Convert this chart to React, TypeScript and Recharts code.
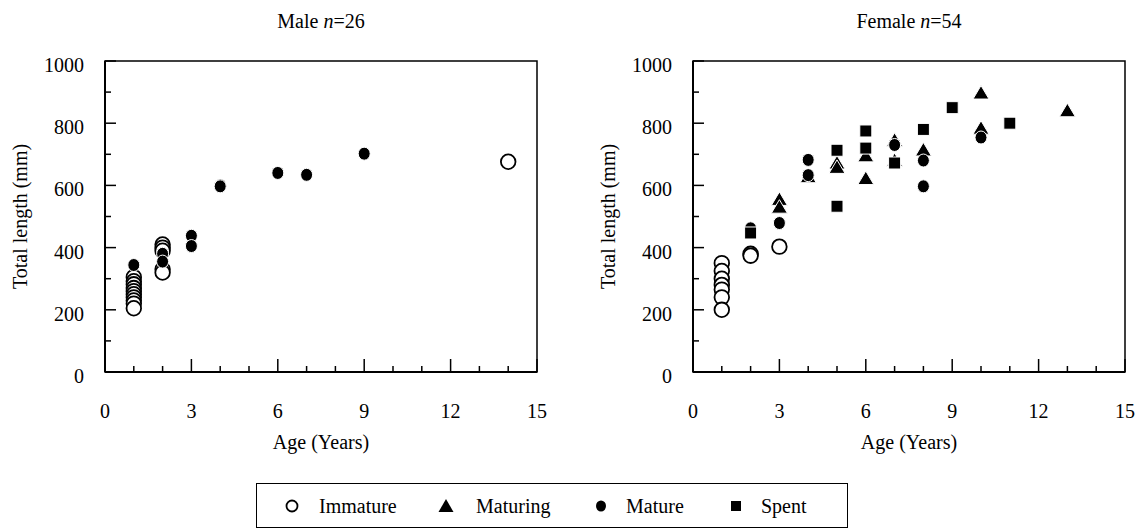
import React from "react";
import { ScatterChart, Scatter, XAxis, YAxis, ReferenceArea, Label } from "recharts";

// [age, total length]
const maleImmature: [number, number][] = [
  [1, 305], [1, 292], [1, 282], [1, 270], [1, 260], [1, 250], [1, 240], [1, 230], [1, 220], [1, 205],
  [2, 410], [2, 400], [2, 390], [2, 330], [2, 320],
  [14, 676],
];
const maleMaturing: [number, number][] = [];
const maleMature: [number, number][] = [
  [1, 344], [2, 380], [2, 355], [3, 438], [3, 405], [4, 600], [4, 597], [6, 640], [7, 634], [9, 702],
];
const maleSpent: [number, number][] = [];

const femaleImmature: [number, number][] = [
  [1, 350], [1, 325], [1, 300], [1, 280], [1, 265], [1, 240], [1, 200],
  [2, 380], [2, 374], [3, 403],
];
const femaleMaturing: [number, number][] = [
  [3, 555], [3, 530], [4, 628], [5, 672], [5, 658], [6, 695], [6, 622], [7, 745], [7, 680],
  [8, 714], [10, 897], [10, 784], [13, 840],
];
const femaleMature: [number, number][] = [
  [2, 462], [3, 479], [4, 682], [4, 633], [7, 730], [8, 680], [8, 597], [10, 754],
];
const femaleSpent: [number, number][] = [
  [2, 447], [5, 713], [5, 533], [6, 775], [6, 720], [7, 672], [8, 780], [9, 850], [11, 800],
];

const xTicks = [0, 1, 2, 3, 4, 5, 6, 7, 8, 9, 10, 11, 12, 13, 14, 15];
const yTicks = [0, 100, 200, 300, 400, 500, 600, 700, 800, 900, 1000];

const FONT = '"Liberation Serif", "Times New Roman", serif';

const toRows = (pts: [number, number][]) => pts.map(([age, len]) => ({ age, len }));

const OpenCircle = (p: any) => (
  <circle cx={p.cx} cy={p.cy} r={7.3} fill="#fff" stroke="#000" strokeWidth={1.8} />
);
const Triangle = (p: any) => (
  <path
    d={`M${p.cx},${p.cy - 7.5} L${p.cx + 8},${p.cy + 6} L${p.cx - 8},${p.cy + 6} Z`}
    fill="#000"
    stroke="#fff"
    strokeWidth={1}
  />
);
const Dot = (p: any) => (
  <ellipse cx={p.cx} cy={p.cy} rx={6} ry={6.5} fill="#000" stroke="#fff" strokeWidth={1} />
);
const Square = (p: any) => (
  <rect x={p.cx - 6} y={p.cy - 6} width={12} height={12} fill="#000" stroke="#fff" strokeWidth={1} />
);

const XTick = (p: any) => {
  const v = p.payload.value;
  const major = v % 3 === 0;
  return (
    <g>
      <line x1={p.x} x2={p.x} y1={p.y} y2={p.y - (major ? 13 : 6)} stroke="#000" strokeWidth={1.5} />
      {major && (
        <text x={p.x} y={p.y + 46} textAnchor="middle" fontSize={20} fontFamily={FONT} fill="#000">
          {v}
        </text>
      )}
    </g>
  );
};

const YTick = (p: any) => {
  const v = p.payload.value;
  const major = v % 200 === 0;
  return (
    <g>
      <line x1={p.x} x2={p.x + (major ? 11 : 6)} y1={p.y} y2={p.y} stroke="#000" strokeWidth={1.5} />
      {major && (
        <text x={p.x - 21} y={p.y + 11} textAnchor="end" fontSize={20} fontFamily={FONT} fill="#000">
          {v}
        </text>
      )}
    </g>
  );
};

const XTitle = (p: any) => {
  const vb = p.viewBox;
  return (
    <text x={vb.x + vb.width / 2} y={vb.y + 77} textAnchor="middle" fontSize={20} fontFamily={FONT} fill="#000">
      Age (Years)
    </text>
  );
};

const YTitle = (p: any) => {
  const vb = p.viewBox;
  const cx = 27;
  const cy = vb.y + vb.height / 2;
  return (
    <text
      x={cx}
      y={cy}
      transform={`rotate(-90 ${cx} ${cy})`}
      textAnchor="middle"
      fontSize={20}
      fontFamily={FONT}
      fill="#000"
    >
      Total length (mm)
    </text>
  );
};

function Panel({
  immature,
  maturing,
  mature,
  spent,
}: {
  immature: [number, number][];
  maturing: [number, number][];
  mature: [number, number][];
  spent: [number, number][];
}) {
  return (
    <ScatterChart width={570} height={457} margin={{ top: 61, right: 33, bottom: 0, left: 0 }}>
      <XAxis
        dataKey="age"
        type="number"
        domain={[0, 15]}
        ticks={xTicks}
        interval={0}
        tickSize={0}
        tickMargin={0}
        tickLine={false}
        tick={<XTick />}
        height={85}
        axisLine={{ stroke: "#000", strokeWidth: 2 }}
      >
        <Label content={<XTitle />} />
      </XAxis>
      <YAxis
        dataKey="len"
        type="number"
        domain={[0, 1000]}
        ticks={yTicks}
        interval={0}
        tickSize={0}
        tickMargin={0}
        tickLine={false}
        tick={<YTick />}
        width={105}
        axisLine={{ stroke: "#000", strokeWidth: 2 }}
      >
        <Label content={<YTitle />} />
      </YAxis>
      <ReferenceArea x1={0} x2={15} y1={0} y2={1000} fill="none" stroke="#000" strokeWidth={1.5} />
      <Scatter name="Immature" data={toRows(immature)} shape={OpenCircle} isAnimationActive={false} />
      <Scatter name="Maturing" data={toRows(maturing)} shape={Triangle} isAnimationActive={false} />
      <Scatter name="Mature" data={toRows(mature)} shape={Dot} isAnimationActive={false} />
      <Scatter name="Spent" data={toRows(spent)} shape={Square} isAnimationActive={false} />
    </ScatterChart>
  );
}

const titleStyle: React.CSSProperties = {
  position: "absolute",
  top: 9,
  width: 432,
  textAlign: "center",
  fontSize: 20,
  lineHeight: "24px",
  fontFamily: FONT,
  color: "#000",
};

const legendItems = [
  { label: "Immature", markerX: 35, textX: 62 },
  { label: "Maturing", markerX: 189, textX: 219 },
  { label: "Mature", markerX: 344, textX: 369 },
  { label: "Spent", markerX: 479, textX: 504 },
];

function LegendMarker({ i }: { i: number }) {
  const c = 9;
  return (
    <svg width={18} height={18} style={{ position: "absolute", left: -9, top: -9 }}>
      {i === 0 && <circle cx={c} cy={c} r={5.5} fill="#fff" stroke="#000" strokeWidth={1.8} />}
      {i === 1 && <path d={`M${c},${c - 7} L${c + 7.5},${c + 6} L${c - 7.5},${c + 6} Z`} fill="#000" />}
      {i === 2 && <ellipse cx={c} cy={c} rx={5} ry={5.5} fill="#000" />}
      {i === 3 && <rect x={c - 5} y={c - 5} width={10} height={10} fill="#000" />}
    </svg>
  );
}

export default function App() {
  return (
    <div style={{ position: "absolute", left: 0, top: 0, width: 1142, height: 532, background: "#fff" }}>
      <div style={{ ...titleStyle, left: 105 }}>
        Male <i>n</i>=26
      </div>
      <div style={{ ...titleStyle, left: 693 }}>
        Female <i>n</i>=54
      </div>
      <div style={{ position: "absolute", left: 0, top: 0 }}>
        <Panel immature={maleImmature} maturing={maleMaturing} mature={maleMature} spent={maleSpent} />
      </div>
      <div style={{ position: "absolute", left: 588, top: 0 }}>
        <Panel immature={femaleImmature} maturing={femaleMaturing} mature={femaleMature} spent={femaleSpent} />
      </div>
      <div
        style={{
          position: "absolute",
          left: 256,
          top: 483,
          width: 590,
          height: 43,
          border: "1.5px solid #000",
          fontFamily: FONT,
          fontSize: 20,
        }}
      >
        {legendItems.map((it, i) => (
          <React.Fragment key={it.label}>
            <div style={{ position: "absolute", left: it.markerX, top: 22 }}>
              <LegendMarker i={i} />
            </div>
            <div style={{ position: "absolute", left: it.textX, top: 10, lineHeight: "24px" }}>{it.label}</div>
          </React.Fragment>
        ))}
      </div>
    </div>
  );
}
